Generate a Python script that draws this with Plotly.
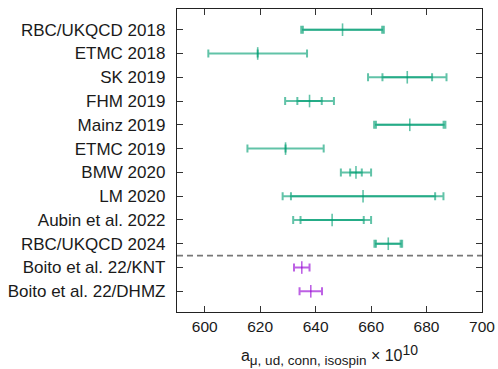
import plotly.graph_objects as go

lattice_names = ["RBC/UKQCD 2018", "ETMC 2018", "SK 2019", "FHM 2019", "Mainz 2019",
                 "ETMC 2019", "BMW 2020", "LM 2020", "Aubin et al. 2022", "RBC/UKQCD 2024"]
lattice_central = [649.7, 619.1, 673.05, 637.8, 673.95, 629.15, 654.55, 657.1, 645.95, 666.2]
lattice_stat = [14.3, 0.0, 8.95, 4.4, 12.2, 0.0, 2.1, 26.0, 11.4, 4.45]
lattice_total = [14.9, 17.8, 14.15, 8.8, 12.85, 13.75, 5.45, 29.0, 14.05, 5.0]

pheno_names = ["Boito et al. 22/KNT", "Boito et al. 22/DHMZ"]
pheno_central = [635.0, 638.25]
pheno_total = [2.8, 4.05]

x_ticks = [600, 620, 640, 660, 680, 700]

all_names = lattice_names + pheno_names
lat_y = list(range(len(lattice_names)))
phe_y = list(range(len(lattice_names), len(all_names)))

green = "rgba(0,158,115,0.62)"
purple = "rgba(148,0,211,0.62)"

fig = go.Figure()

def add_bar(xs, ys, errs, color, marker=False):
    fig.add_trace(go.Scatter(
        x=xs, y=ys, mode="markers",
        marker=dict(symbol="line-ns-open", size=9 if marker else 0.1,
                    color=color, line=dict(color=color, width=1.6)),
        error_x=dict(type="data", array=errs, visible=True, color=color,
                     thickness=2, width=4),
        showlegend=False, hoverinfo="x+y"))

add_bar(lattice_central, lat_y, lattice_total, green, marker=True)
add_bar(lattice_central, lat_y, lattice_stat, green)
add_bar(pheno_central, phe_y, pheno_total, purple, marker=True)

fig.add_shape(type="line", xref="paper", yref="y", x0=0, x1=1, y0=9.5, y1=9.5,
              line=dict(color="#777777", width=1.6, dash="6px,4px"))

title_text = ('a<sub><span style="font-size:13.5px">μ, ud, conn, isospin</span></sub>'
              ' × 10<sup><span style="font-size:14px">10</span></sup>')

fig.update_layout(
    width=498, height=369,
    margin=dict(l=177, r=16, t=9, b=57),
    paper_bgcolor="white", plot_bgcolor="white",
    font=dict(family="Liberation Sans, Arial, sans-serif", size=16, color="#1a1a1a"),
)
fig.update_xaxes(
    range=[590, 700], tickvals=x_ticks, ticks="inside", ticklen=6, tickwidth=1,
    tickcolor="#333", mirror="ticks", showline=True, linecolor="#222", linewidth=1.3,
    showgrid=False, zeroline=False, tickfont=dict(size=15.5), automargin=False,
    title=dict(text=title_text, font=dict(size=16), standoff=16),
)
fig.update_yaxes(
    range=[11.87, -0.87], tickvals=list(range(len(all_names))), ticktext=all_names,
    ticks="inside", ticklen=6, tickwidth=1, tickcolor="#333", mirror="ticks",
    showline=True, linecolor="#222", linewidth=1.3, showgrid=False, zeroline=False,
    tickfont=dict(size=17), ticklabelstandoff=7, automargin=False,
)

fig.write_html("out.html", config={"displayModeBar": False},
               post_script="document.body.style.margin='0px';document.body.style.overflow='hidden';")
